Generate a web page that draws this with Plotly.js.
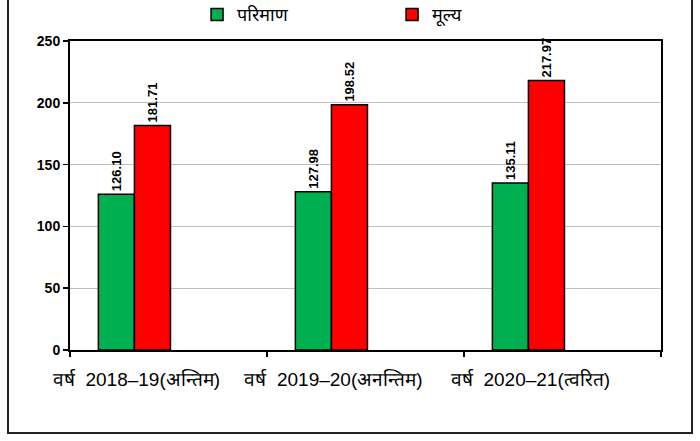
<!DOCTYPE html>
<html><head><meta charset="utf-8">
<script src="https://cdn.plot.ly/plotly-3.0.1.min.js"></script>
<style>html,body{margin:0;padding:0;background:#fff}#c{width:700px;height:441px}</style>
</head><body><div id="c"></div>
<script>
const categories = ["वर्ष\u00a0\u00a02018–19(अन्तिम)", "वर्ष\u00a0\u00a02019–20(अनन्तिम)", "वर्ष\u00a0\u00a02020–21(त्वरित)"];
const quantity = [126.10, 127.98, 135.11];
const value = [181.71, 198.52, 217.97];
const seriesNames = ["परिमाण", "मूल्य"];
const yTicks = [0, 50, 100, 150, 200, 250];

const labelFont = {family: "Liberation Sans, Arial, sans-serif", size: 13, color: "#000", weight: 700};
function barTrace(y, name, color, offset) {
  return {
    type: "bar", x: categories, y: y, name: name,
    marker: {color: color, line: {color: "#000", width: 1.5}},
    width: 0.183, offset: offset,
    text: y.map(v => v.toFixed(2)), textposition: "outside", textangle: -90,
    textfont: labelFont, cliponaxis: false, constraintext: "none", hoverinfo: "skip"
  };
}
const data = [
  barTrace(quantity, seriesNames[0], "#00B050", -0.356),
  barTrace(value, seriesNames[1], "#FF0000", -0.173)
];
const layout = {
  width: 700, height: 441,
  margin: {l: 70, r: 39, t: 41, b: 91, autoexpand: false},
  paper_bgcolor: "#fff", plot_bgcolor: "#fff",
  showlegend: true,
  legend: {orientation: "h", x: 0.215, xanchor: "left", y: 1.085, yanchor: "middle",
    font: {family: "Noto Sans, sans-serif", size: 18, color: "#000"},
    entrywidth: 150, itemwidth: 30, traceorder: "normal"},
  xaxis: {type: "category", range: [-0.5, 2.5], showline: true, linecolor: "#000", linewidth: 2, mirror: true,
    ticks: "outside", tickson: "boundaries", ticklen: 5, tickcolor: "#000", tickwidth: 1.5,
    ticklabelshift: -32, ticklabelstandoff: 11,
    tickfont: {family: "Liberation Sans Narrow, Liberation Sans, sans-serif", size: 19, color: "#000"},
    showgrid: false, fixedrange: true},
  yaxis: {range: [0, 250], tickvals: yTicks, ticktext: yTicks.map(String),
    showline: true, linecolor: "#000", linewidth: 2, mirror: true,
    ticks: "outside", ticklen: 5, tickcolor: "#000", tickwidth: 1.5,
    showgrid: true, gridcolor: "#c0c0c0", gridwidth: 1, zeroline: false,
    tickfont: {family: "Liberation Sans, Arial, sans-serif", size: 14, color: "#000", weight: 700},
    fixedrange: true},
  shapes: [{type: "rect", xref: "paper", yref: "paper", x0: -0.1049, x1: 1.0525, y0: -0.2686, y1: 1.2,
    line: {color: "#222", width: 2}, fillcolor: "rgba(0,0,0,0)", layer: "below"}]
};
Plotly.newPlot("c", data, layout, {displayModeBar: false, staticPlot: true});
</script></body></html>
